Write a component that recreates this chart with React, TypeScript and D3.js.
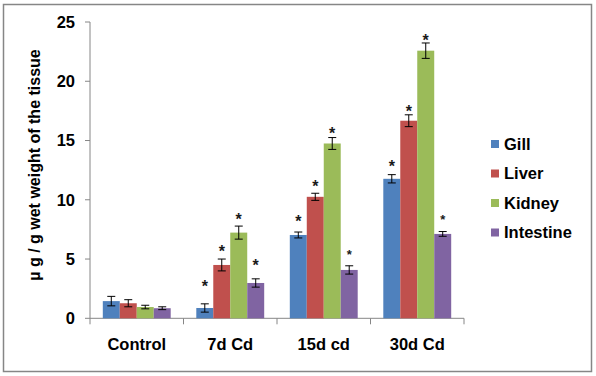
import React from "react";
import * as d3 from "d3";

const categories = ["Control", "7d Cd", "15d cd", "30d Cd"];
const seriesNames = ["Gill", "Liver", "Kidney", "Intestine"];
const colors = ["#4F81BD", "#C0504D", "#9BBB59", "#8064A2"];
// values per series, per category
const gill = [1.45, 0.87, 7.03, 11.77];
const liver = [1.27, 4.5, 10.25, 16.67];
const kidney = [0.95, 7.23, 14.75, 22.58];
const intestine = [0.85, 2.98, 4.08, 7.12];
const gillErr = [0.4, 0.35, 0.25, 0.35];
const liverErr = [0.3, 0.5, 0.3, 0.5];
const kidneyErr = [0.15, 0.55, 0.5, 0.65];
const intestineErr = [0.12, 0.35, 0.35, 0.2];
// asterisk levels (null = none)
const gillStar = [null, 2.98, 8.5, 13.09];
const liverStar = [null, 5.96, 11.4, 17.74];
const kidneyStar = [null, 8.67, 15.9, 23.73];
const intestineStar = [null, 4.78, 5.62, 8.58];
const yTicks = [0, 5, 10, 15, 20, 25];

const values = [gill, liver, kidney, intestine];
const errs = [gillErr, liverErr, kidneyErr, intestineErr];
const stars = [gillStar, liverStar, kidneyStar, intestineStar];

export default function App() {
  const W = 596, H = 376;
  const left = 90, right = 464, top = 22, bottom = 318.3;
  const x0 = d3.scaleBand().domain(categories).range([left, right]).paddingInner(0).paddingOuter(0);
  const x1 = d3.scaleBand().domain(seriesNames).range([12.8, x0.bandwidth() - 12.8]).padding(0);
  const y = d3.scaleLinear().domain([0, 25]).range([bottom, top]);
  const font = "Arial, 'Liberation Sans', sans-serif";
  const axisColor = "#868686";

  return (
    <svg width={W} height={H} style={{ position: "absolute", left: 0, top: 0 }} fontFamily={font}>
      <rect x={3.5} y={4.5} width={588} height={367} fill="white" stroke={axisColor} strokeWidth={1.5} />
      {/* y axis */}
      <line x1={left} x2={left} y1={y(25)} y2={bottom} stroke={axisColor} strokeWidth={1} />
      {yTicks.map((t) => (
        <g key={t}>
          <line x1={left - 5} x2={left} y1={y(t)} y2={y(t)} stroke={axisColor} />
          <text x={75} y={y(t)} dy="0.36em" textAnchor="end" fontSize={16.5} fontWeight="bold" fill="#000">
            {t}
          </text>
        </g>
      ))}
      {/* x axis */}
      <line x1={left} x2={right} y1={bottom} y2={bottom} stroke={axisColor} />
      {[...categories.map((c) => x0(c)!), right].map((xx, i) => (
        <line key={i} x1={xx} x2={xx} y1={bottom} y2={bottom + 6} stroke={axisColor} />
      ))}
      {categories.map((c) => (
        <text key={c} x={x0(c)! + x0.bandwidth() / 2} y={350} textAnchor="middle" fontSize={16.5} fontWeight="bold" fill="#000">
          {c}
        </text>
      ))}
      {/* bars */}
      {seriesNames.map((s, si) =>
        categories.map((c, ci) => {
          const bx = x0(c)! + x1(s)!;
          const bw = x1.bandwidth();
          const v = values[si][ci];
          const e = errs[si][ci];
          const cx = bx + bw / 2;
          const st = stars[si][ci];
          const small = si === 3 && ci >= 2;
          return (
            <g key={s + c}>
              <rect x={bx} y={y(v)} width={bw} height={bottom - y(v)} fill={colors[si]} />
              <line x1={cx} x2={cx} y1={y(v + e)} y2={y(v - e)} stroke="#000" strokeWidth={1} />
              <line x1={cx - 4} x2={cx + 4} y1={y(v + e)} y2={y(v + e)} stroke="#000" strokeWidth={1} />
              <line x1={cx - 4} x2={cx + 4} y1={y(v - e)} y2={y(v - e)} stroke="#000" strokeWidth={1} />
              {st !== null && (
                <text x={cx} y={y(st) + (small ? 7 : 9)} textAnchor="middle" fontSize={small ? 13 : 16} fontWeight="bold" fill="#1a1a1a">
                  *
                </text>
              )}
            </g>
          );
        })
      )}
      {/* y label */}
      <text transform={`translate(40,165) rotate(-90)`} textAnchor="middle" fontSize={16} fontWeight="bold" fill="#000">
        µ g / g wet weight of the tissue
      </text>
      {/* legend */}
      {seriesNames.map((s, i) => (
        <g key={s} transform={`translate(491, ${144 + i * 29.5})`}>
          <rect x={0} y={-4} width={8} height={8} fill={colors[i]} />
          <text x={13} y={0} dy="0.36em" fontSize={16.5} fontWeight="bold" fill="#000">
            {s}
          </text>
        </g>
      ))}
    </svg>
  );
}
